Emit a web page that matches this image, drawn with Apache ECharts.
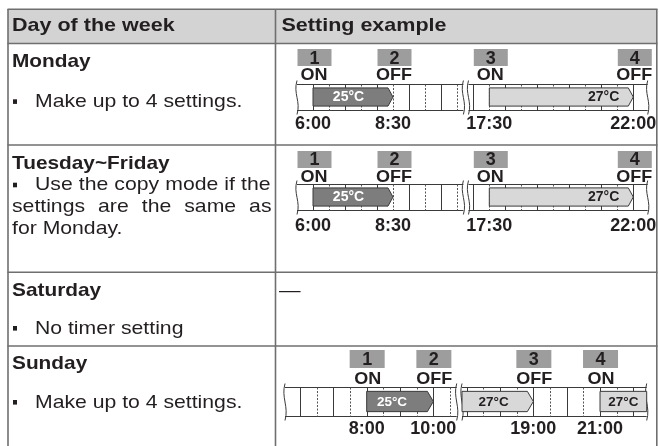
<!DOCTYPE html>
<html><head><meta charset="utf-8">
<script src="https://cdn.jsdelivr.net/npm/echarts@6/dist/echarts.min.js"></script>
<style>html,body{margin:0;padding:0;background:#fff}#c{width:659px;height:446px}</style>
</head><body><div id="c"></div>
<script>
// ---------------- data ----------------
const headers = ['Day of the week', 'Setting example'];
const dayNames = ['Monday', 'Tuesday~Friday', 'Saturday', 'Sunday'];
const mondayNotes = ['Make up to 4 settings.'];
const tuesdayNotes = ['Use the copy mode if the', 'settings are the same as', 'for Monday.'];
const saturdayNotes = ['No timer setting'];
const sundayNotes = ['Make up to 4 settings.'];
const saturdaySetting = '\u2014';

// Monday (hours of the day)
const monSegments = [[5.5, 10.7], [16.85, 22.45]];
const monEventTimes = [6, 8.5, 17.5, 22];
const monEventNums = ['1', '2', '3', '4'];
const monEventModes = ['ON', 'OFF', 'ON', 'OFF'];
const monEventLabels = ['6:00', '8:30', '17:30', '22:00'];
const monBarStarts = [6, 17.5];
const monBarEnds = [8.5, 22];
const monBarTemps = ['25\u00b0C', '27\u00b0C'];

// Tuesday~Friday
const tueSegments = [[5.5, 10.7], [16.85, 22.45]];
const tueEventTimes = [6, 8.5, 17.5, 22];
const tueEventNums = ['1', '2', '3', '4'];
const tueEventModes = ['ON', 'OFF', 'ON', 'OFF'];
const tueEventLabels = ['6:00', '8:30', '17:30', '22:00'];
const tueBarStarts = [6, 17.5];
const tueBarEnds = [8.5, 22];
const tueBarTemps = ['25\u00b0C', '27\u00b0C'];

// Sunday
const sunSegments = [[5.55, 10.7], [16.86, 22.4]];
const sunEventTimes = [8, 10, 19, 21];
const sunEventNums = ['1', '2', '3', '4'];
const sunEventModes = ['ON', 'OFF', 'OFF', 'ON'];
const sunEventLabels = ['8:00', '10:00', '19:00', '21:00'];
const sunBarStarts = [8, 16.86, 21];
const sunBarEnds = [10, 19, 22.4];
const sunBarTemps = ['25\u00b0C', '27\u00b0C', '27\u00b0C'];

// ---------------- styles / layout ----------------
const FF = '"Liberation Sans", Arial, Helvetica, sans-serif';
const TEXT = '#231f20';
const BORDER = '#6f6f6f';
const HEAD_BG = '#d3d3d3';
const BOX = '#9d9d9d';
const STRIP = '#3a3a3a';
const TEMP_FILL = {'25\u00b0C': '#7d7d7d', '27\u00b0C': '#d8d8d8'};
const TEMP_TEXT = {'25\u00b0C': '#ffffff', '27\u00b0C': TEXT};
const SX = 1.14;

const LAY = {
  mon: {top: 84, h: 26, grids: [[297, 166.4], [468.5, 179.2]], boxTop: -35, boxH: 17, boxW: 34, boxDx: 1.5,
        numY: -25, modeY: -8.5, timeY: 14.5, numFont: 18, modeFont: 17, timeFont: 18, barFont: 14, tip: 5,
        labelDx: [-2, 0], labelRight: [null, 14]},
  tue: {top: 184, h: 26, grids: [[297, 166.4], [468.5, 179.2]], boxTop: -33, boxH: 17, boxW: 34, boxDx: 1.5,
        numY: -24, modeY: -6.5, timeY: 16, numFont: 18, modeFont: 17, timeFont: 18, barFont: 14, tip: 5,
        labelDx: [-2, 0], labelRight: [null, 14]},
  sun: {top: 387, h: 29, grids: [[285, 171.7], [462, 184.7]], boxTop: -37, boxH: 18, boxW: 35, boxDx: 0.5,
        numY: -27, modeY: -8, timeY: 13, numFont: 18, modeFont: 17, timeFont: 18, barFont: 13.5, tip: 6,
        labelDx: [-5, -1, 0], labelRight: [null, null, null]}
};

const timelines = [
  {seg: monSegments, t: monEventTimes, n: monEventNums, m: monEventModes, l: monEventLabels, bs: monBarStarts, be: monBarEnds, bt: monBarTemps, lay: LAY.mon},
  {seg: tueSegments, t: tueEventTimes, n: tueEventNums, m: tueEventModes, l: tueEventLabels, bs: tueBarStarts, be: tueBarEnds, bt: tueBarTemps, lay: LAY.tue},
  {seg: sunSegments, t: sunEventTimes, n: sunEventNums, m: sunEventModes, l: sunEventLabels, bs: sunBarStarts, be: sunBarEnds, bt: sunBarTemps, lay: LAY.sun}
];

// ---------------- table graphics ----------------
const measureCtx = document.createElement('canvas').getContext('2d');
function txt(str, x, baseline, size, bold, extra) {
  return Object.assign({
    type: 'text', x: x, y: baseline - 0.3465 * size, scaleX: SX, silent: true,
    style: {text: str, x: 0, y: 0, font: (bold ? 'bold ' : '') + size + 'px ' + FF, fill: TEXT, align: 'left', verticalAlign: 'middle'}
  }, extra || {});
}
function justified(str, x0, x1, baseline, size) {
  measureCtx.font = size + 'px ' + FF;
  const words = str.split(' ');
  const w = words.map(s => measureCtx.measureText(s).width * SX);
  const total = w.reduce((a, b) => a + b, 0);
  const gap = (x1 - x0 - total) / (words.length - 1);
  let x = x0;
  return words.map((s, i) => { const e = txt(s, x, baseline, size, false); x += w[i] + gap; return e; });
}
function bullet(baseline) {
  return {type: 'rect', silent: true, shape: {x: 13, y: baseline - 9, width: 4, height: 4.6}, style: {fill: TEXT}};
}
function hline(y) { return {type: 'line', silent: true, shape: {x1: 7.5, y1: y, x2: 657.5, y2: y}, style: {stroke: BORDER, lineWidth: 1.6}}; }
function vline(x) { return {type: 'line', silent: true, shape: {x1: x, y1: 9, x2: x, y2: 446}, style: {stroke: BORDER, lineWidth: 1.6}}; }

const HF = 18.4, NF = 18.6;
const graphic = [
  {type: 'rect', silent: true, shape: {x: 8, y: 9.5, width: 649, height: 34}, style: {fill: HEAD_BG}},
  hline(9.3), hline(43.5), hline(145), hline(272.3), hline(346),
  vline(8), vline(275.5), vline(656.8),
  txt(headers[0], 12, 32.5, HF, true, {scaleX: 1.17}),
  txt(headers[1], 281.5, 32.5, HF, true, {scaleX: 1.17}),
  txt(dayNames[0], 12, 68.5, NF, true, {scaleX: 1.12}),
  bullet(108.3), txt(mondayNotes[0], 35, 108.3, NF, false),
  txt(dayNames[1], 12, 170.7, NF, true, {scaleX: 1.12}),
  bullet(191.7),
  ...justified(tuesdayNotes[0], 35, 270.5, 191.7, NF),
  ...justified(tuesdayNotes[1], 12, 271.5, 213.7, NF),
  txt(tuesdayNotes[2], 12, 235.8, NF, false),
  txt(dayNames[2], 12, 297.5, NF, true, {scaleX: 1.12}),
  bullet(335), txt(saturdayNotes[0], 35, 335, NF, false),
  txt(saturdaySetting, 279, 297.5, NF, false, {scaleX: 1.16}),
  txt(dayNames[3], 12, 370.7, NF, true, {scaleX: 1.12}),
  bullet(409), txt(sundayNotes[0], 35, 409, NF, false)
];

// ---------------- timeline rendering ----------------
const grids = [], xAxes = [], yAxes = [], series = [];
function crisp(v) { return Math.round(v) + 0.5; }

function frameRender(params, api) {
  const mn = api.value(0), mx = api.value(2);
  const bl = api.coord([mn, 0]), tr = api.coord([mx, 1]);
  const L = bl[0], R = tr[0], B = crisp(bl[1]), T = crisp(tr[1]);
  const ch = [];
  ch.push({type: 'line', shape: {x1: L, y1: T, x2: R, y2: T}, style: {stroke: STRIP, lineWidth: 1}});
  ch.push({type: 'line', shape: {x1: L, y1: B, x2: R, y2: B}, style: {stroke: STRIP, lineWidth: 1}});
  for (let t = Math.floor(mn * 2) / 2 + 0.5; t <= mx - 0.02; t += 0.5) {
    const x = crisp(api.coord([t, 0])[0]);
    const whole = Math.abs(t - Math.round(t)) < 1e-6;
    ch.push({type: 'line', shape: {x1: x, y1: T, x2: x, y2: B},
      style: {stroke: whole ? STRIP : '#555', lineWidth: 1, lineDash: whole ? null : [2, 1.5]}});
  }
  [L, R].forEach(x => {
    ch.push({type: 'bezierCurve', shape: {x1: x, y1: T - 4, cpx1: x - 4, cpy1: T + (B - T) * 0.35, cpx2: x + 4, cpy2: T + (B - T) * 0.65, x2: x, y2: B + 4},
      style: {stroke: STRIP, lineWidth: 1, fill: null}});
  });
  return {type: 'group', children: ch};
}

function makeBarRender(meta, lay) {
  return function (params, api) {
    const i = params.dataIndex, m = meta[i];
    const s = api.value(0), e = api.value(2);
    const x1 = api.coord([s, 0.5])[0], x2 = api.coord([e, 0.5])[0];
    const yt = api.coord([s, 0.85])[1], yb = api.coord([s, 0.15])[1], ym = (yt + yb) / 2;
    const pts = m.arrow
      ? [[x1, yt], [x2 - lay.tip, yt], [x2, ym], [x2 - lay.tip, yb], [x1, yb]]
      : [[x1, yt], [x2, yt], [x2, yb], [x1, yb]];
    let tx, align;
    if (lay.labelRight[m.k] != null) { tx = x2 - lay.labelRight[m.k]; align = 'right'; }
    else { tx = (x1 + x2 - (m.arrow ? lay.tip : 0)) / 2 + lay.labelDx[m.k]; align = 'center'; }
    return {type: 'group', children: [
      {type: 'polygon', shape: {points: pts}, style: {fill: TEMP_FILL[m.temp], stroke: STRIP, lineWidth: 1}},
      {type: 'text', x: tx, y: ym + 0.5, style: {text: m.temp, font: 'bold ' + lay.barFont + 'px ' + FF, fill: TEMP_TEXT[m.temp], align: align, verticalAlign: 'middle'}}
    ]};
  };
}

function makeEventRender(meta, lay) {
  return function (params, api) {
    const m = meta[params.dataIndex];
    const p = api.coord([api.value(0), 1]);
    const x = p[0], top = p[1];
    const bottom = api.coord([api.value(0), 0])[1];
    return {type: 'group', children: [
      {type: 'rect', shape: {x: x - lay.boxW / 2 + lay.boxDx, y: top + lay.boxTop, width: lay.boxW, height: lay.boxH}, style: {fill: BOX}},
      {type: 'text', x: x + lay.boxDx, y: top + lay.numY, style: {text: m.num, font: 'bold ' + lay.numFont + 'px ' + FF, fill: TEXT, align: 'center', verticalAlign: 'middle'}},
      {type: 'text', x: x + 1, y: top + lay.modeY, scaleX: 1.06, style: {text: m.mode, font: 'bold ' + lay.modeFont + 'px ' + FF, fill: TEXT, align: 'center', verticalAlign: 'middle'}},
      {type: 'text', x: x, y: bottom + lay.timeY, style: {text: m.label, font: 'bold ' + lay.timeFont + 'px ' + FF, fill: TEXT, align: 'center', verticalAlign: 'middle'}}
    ]};
  };
}

timelines.forEach(tl => {
  tl.seg.forEach((seg, k) => {
    const g = grids.length;
    const gr = tl.lay.grids[k];
    grids.push({left: gr[0], top: tl.lay.top, width: gr[1], height: tl.lay.h, show: false, containLabel: false});
    xAxes.push({type: 'value', gridIndex: g, min: seg[0], max: seg[1], show: false});
    yAxes.push({type: 'value', gridIndex: g, min: 0, max: 1, show: false});
    series.push({type: 'custom', coordinateSystem: 'cartesian2d', xAxisIndex: g, yAxisIndex: g, z: 1, silent: true,
      data: [[seg[0], 0.5, seg[1]]], renderItem: frameRender});
    const barData = [], barMeta = [];
    tl.bs.forEach((s, i) => {
      const e = tl.be[i];
      if (s >= seg[0] - 0.01 && e <= seg[1] + 0.01) {
        barData.push([s, 0.5, e]);
        barMeta.push({temp: tl.bt[i], k: i, arrow: e < seg[1] - 0.01});
      }
    });
    series.push({type: 'custom', coordinateSystem: 'cartesian2d', xAxisIndex: g, yAxisIndex: g, z: 2, silent: true,
      data: barData, renderItem: makeBarRender(barMeta, tl.lay)});
    const evData = [], evMeta = [];
    tl.t.forEach((t, i) => {
      if (t >= seg[0] && t <= seg[1]) {
        evData.push([t, 0.5]);
        evMeta.push({num: tl.n[i], mode: tl.m[i], label: tl.l[i]});
      }
    });
    series.push({type: 'custom', coordinateSystem: 'cartesian2d', xAxisIndex: g, yAxisIndex: g, z: 3, silent: true,
      data: evData, renderItem: makeEventRender(evMeta, tl.lay)});
  });
});

const chart = echarts.init(document.getElementById('c'), null, {renderer: 'canvas'});
chart.setOption({
  animation: false,
  backgroundColor: '#ffffff',
  graphic: graphic,
  grid: grids,
  xAxis: xAxes,
  yAxis: yAxes,
  series: series
});
</script></body></html>
